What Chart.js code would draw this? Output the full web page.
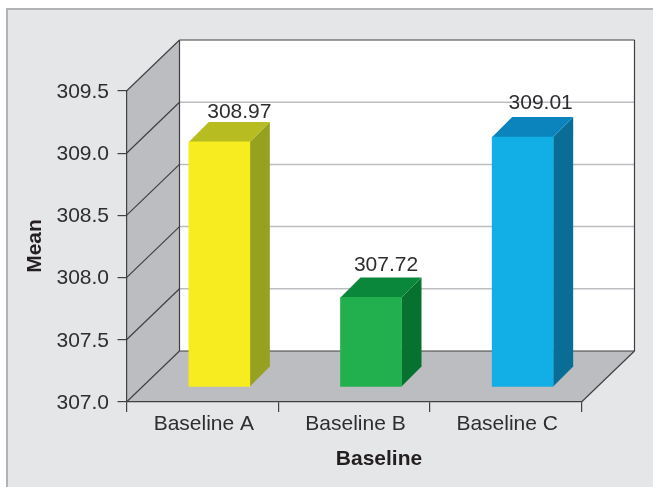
<!DOCTYPE html>
<html>
<head>
<meta charset="utf-8">
<script src="https://cdn.jsdelivr.net/npm/chart.js@4"></script>
<style>
  html, body { margin: 0; padding: 0; background: #fff; overflow: hidden; }
  #panel {
    position: absolute; left: 6px; top: 8px; width: 660px; height: 490px;
    background: #e5e6e8; border: 2px solid #b1b3b6; box-sizing: border-box;
  }
  #myChart { position: absolute; left: 0; top: 0; }
</style>
</head>
<body>
<div id="panel"></div>
<canvas id="myChart" width="653" height="487"></canvas>
<script>
const categories = ['Baseline A', 'Baseline B', 'Baseline C'];
const meanValues = [308.97, 307.72, 309.01];
const frontColors = ['#f7ec1f', '#22b04f', '#12aee6'];
const sideColors = ['#96a11f', '#07722f', '#0a6d96'];
const topColors = ['#b7bd20', '#0a873a', '#0b84bd'];
const xTitle = 'Baseline';
const yTitle = 'Mean';

const FONT = '"Liberation Sans", Arial, sans-serif';
const AXIS_COLOR = '#414042';
const TEXT_COLOR = '#2e2e30';
const WALL_COLOR = '#bcbdc0';
const GRID_COLOR = '#bcbdc0';

// how far the back wall sits behind the axes
const WALL_DX = 53;
const WALL_DY = 51;
// where the bars stand on the floor, and their own depth
const BAR_DX = 17;
const BAR_DY = 15;
const BAR_DEPTH = 20;

var ctx = document.getElementById('myChart').getContext('2d');

function poligono(c, pontos, cor)
{
  c.beginPath();
  c.moveTo(pontos[0][0], pontos[0][1]);
  for(var i = 1 ; i < pontos.length ; i++)
  {
    c.lineTo(pontos[i][0], pontos[i][1]);
  }
  c.closePath();
  c.fillStyle = cor;
  c.fill();
}

function linha(c, x1, y1, x2, y2, cor, largura)
{
  c.beginPath();
  c.moveTo(x1, y1);
  c.lineTo(x2, y2);
  c.strokeStyle = cor;
  c.lineWidth = largura;
  c.stroke();
}

// walls, floor and the back grid go under everything else
const caixa3d = {
  id: 'caixa3d',
  beforeDraw(chart)
  {
    const c = chart.ctx;
    const a = chart.chartArea;
    const ticks = chart.scales.y.ticks;
    c.save();
    poligono(c, [[a.left + WALL_DX, a.top - WALL_DY], [a.right + WALL_DX, a.top - WALL_DY],
                 [a.right + WALL_DX, a.bottom - WALL_DY], [a.left + WALL_DX, a.bottom - WALL_DY]], '#ffffff');
    poligono(c, [[a.left, a.top], [a.left + WALL_DX, a.top - WALL_DY],
                 [a.left + WALL_DX, a.bottom - WALL_DY], [a.left, a.bottom]], WALL_COLOR);
    poligono(c, [[a.left, a.bottom], [a.right, a.bottom],
                 [a.right + WALL_DX, a.bottom - WALL_DY], [a.left + WALL_DX, a.bottom - WALL_DY]], WALL_COLOR);
    for(var i = 0 ; i < ticks.length ; i++)
    {
      const y = chart.scales.y.getPixelForValue(ticks[i].value);
      if(i > 0 && i < ticks.length - 1)
      {
        linha(c, a.left + WALL_DX, y - WALL_DY, a.right + WALL_DX, y - WALL_DY, GRID_COLOR, 1.5);
      }
      linha(c, a.left, y, a.left + WALL_DX, y - WALL_DY, AXIS_COLOR, 1.2);
    }
    linha(c, a.left + WALL_DX, a.top - WALL_DY, a.right + WALL_DX, a.top - WALL_DY, AXIS_COLOR, 1.2);
    linha(c, a.left + WALL_DX, a.top - WALL_DY, a.left + WALL_DX, a.bottom - WALL_DY, AXIS_COLOR, 1.2);
    linha(c, a.right + WALL_DX, a.top - WALL_DY, a.right + WALL_DX, a.bottom - WALL_DY, AXIS_COLOR, 1.2);
    linha(c, a.left + WALL_DX, a.bottom - WALL_DY, a.right + WALL_DX, a.bottom - WALL_DY, AXIS_COLOR, 1.2);
    linha(c, a.right, a.bottom, a.right + WALL_DX, a.bottom - WALL_DY, AXIS_COLOR, 1.2);
    c.restore();
  },
  // the library draws the bar fronts, pushed back onto the floor; side and top faces are added here
  beforeDatasetDraw(chart, args)
  {
    const c = chart.ctx;
    c.save();
    c.translate(BAR_DX, -BAR_DY);
    const barras = args.meta.data;
    for(var i = 0 ; i < barras.length ; i++)
    {
      const b = barras[i];
      const esq = b.x - b.width / 2;
      const dir = b.x + b.width / 2;
      poligono(c, [[dir, b.y], [dir + BAR_DEPTH, b.y - BAR_DEPTH],
                   [dir + BAR_DEPTH, b.base - BAR_DEPTH], [dir, b.base]], sideColors[i]);
      poligono(c, [[esq, b.y], [esq + BAR_DEPTH, b.y - BAR_DEPTH],
                   [dir + BAR_DEPTH, b.y - BAR_DEPTH], [dir, b.y]], topColors[i]);
    }
  },
  afterDatasetDraw(chart)
  {
    chart.ctx.restore();
  },
  afterDraw(chart)
  {
    const c = chart.ctx;
    const barras = chart.getDatasetMeta(0).data;
    // value labels sit above the back edge of each top face
    const ajusteX = [0, -5, -2];
    const ajusteY = [3.5, 6.5, 8];
    c.save();
    c.fillStyle = TEXT_COLOR;
    c.font = '21px ' + FONT;
    c.textAlign = 'center';
    c.textBaseline = 'alphabetic';
    for(var i = 0 ; i < barras.length ; i++)
    {
      const b = barras[i];
      c.fillText(meanValues[i].toFixed(2),
                 b.x + BAR_DX + BAR_DEPTH + ajusteX[i],
                 b.y - BAR_DY - BAR_DEPTH - ajusteY[i]);
    }
    // axis titles
    c.fillStyle = '#231f20';
    c.font = 'bold 21px ' + FONT;
    c.fillText(xTitle, 379, 465);
    c.translate(41, 246);
    c.rotate(-Math.PI / 2);
    c.fillText(yTitle, 0, 0);
    c.restore();
  }
};

chart = new Chart(ctx, {
    type: 'bar',
    data: {
        labels: categories,
        datasets: [
          {
            label: yTitle,
            data: meanValues,
            base: 307,
            backgroundColor: frontColors,
            barThickness: 61,
            borderWidth: 0
          }
        ]
    },
    plugins: [caixa3d],
    options:
    {
      responsive: false,
      animation: false,
      layout: { padding: { top: 91, right: 71.5, left: 0, bottom: 0 } },
      plugins:
      {
        legend: { display: false },
        tooltip: { enabled: false }
      },
      scales:
      {
        x:
        {
          afterFit(scale) { scale.height = 85; },
          grid: { offset: true, drawOnChartArea: false, color: AXIS_COLOR, lineWidth: 1.2, tickLength: 10 },
          border: { color: AXIS_COLOR, width: 1.2 },
          ticks: { color: TEXT_COLOR, padding: 0, labelOffset: 1.5, maxRotation: 0, font: { family: FONT, size: 21 } }
        },
        y:
        {
          min: 307,
          max: 309.5,
          afterFit(scale) { scale.width = 126.5; },
          grid: { drawOnChartArea: false, color: AXIS_COLOR, lineWidth: 1.2, tickLength: 9 },
          border: { color: AXIS_COLOR, width: 1.2 },
          ticks:
          {
            stepSize: 0.5,
            color: TEXT_COLOR,
            padding: 8.5,
            labelOffset: 1,
            font: { family: FONT, size: 21 },
            callback: function(valor) { return valor.toFixed(1); }
          }
        }
      }
    }
});
</script>
</body>
</html>
